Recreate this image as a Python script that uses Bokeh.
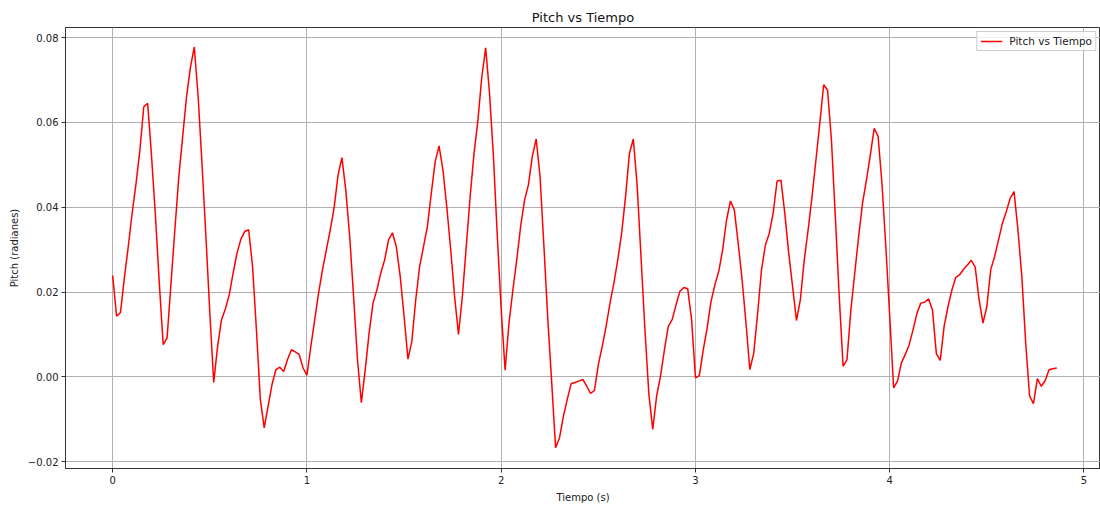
from bokeh.plotting import figure
from bokeh.models import Range1d, FixedTicker, CustomJSTickFormatter, Legend, LegendItem
from bokeh.embed import file_html
from bokeh.resources import INLINE

# Pitch angle (rad) sampled every 0.02 s
periodo = 0.02
pitch = [
    0.0239, 0.0143, 0.0152, 0.0233, 0.0307, 0.0386, 0.0456, 0.0535, 0.0637, 0.0645,
    0.0520, 0.0380, 0.0220, 0.0076, 0.0092, 0.0220, 0.0347, 0.0470, 0.0566, 0.0660,
    0.0730, 0.0778, 0.0660, 0.0500, 0.0330, 0.0150, -0.0013, 0.0072, 0.0135, 0.0160,
    0.0194, 0.0245, 0.0292, 0.0325, 0.0343, 0.0347, 0.0260, 0.0110, -0.0053, -0.0120,
    -0.0069, -0.0018, 0.0017, 0.0023, 0.0013, 0.0041, 0.0064, 0.0059, 0.0053, 0.0021,
    0.0004, 0.0072, 0.0135, 0.0198, 0.0253, 0.0300, 0.0347, 0.0400, 0.0476, 0.0517,
    0.0440, 0.0331, 0.0190, 0.0041, -0.0061, 0.0017, 0.0104, 0.0174, 0.0205, 0.0245,
    0.0276, 0.0323, 0.0340, 0.0307, 0.0237, 0.0143, 0.0042, 0.0084, 0.0182, 0.0260,
    0.0307, 0.0355, 0.0433, 0.0507, 0.0545, 0.0488, 0.0400, 0.0300, 0.0190, 0.0100,
    0.0190, 0.0307, 0.0425, 0.0527, 0.0605, 0.0707, 0.0776, 0.0668, 0.0519, 0.0331,
    0.0158, 0.0016, 0.0127, 0.0205, 0.0276, 0.0355, 0.0417, 0.0453, 0.0520, 0.0561,
    0.0472, 0.0307, 0.0135, -0.0014, -0.0167, -0.0144, -0.0093, -0.0053, -0.0016, -0.0013,
    -0.0010, -0.0006, -0.0022, -0.0039, -0.0032, 0.0029, 0.0072, 0.0119, 0.0174, 0.0221,
    0.0276, 0.0339, 0.0425, 0.0527, 0.0561, 0.0450, 0.0280, 0.0110, -0.0040, -0.0124,
    -0.0045, 0.0002, 0.0064, 0.0119, 0.0135, 0.0170, 0.0202, 0.0211, 0.0208, 0.0135,
    -0.0002, 0.0003, 0.0064, 0.0115, 0.0178, 0.0217, 0.0249, 0.0300, 0.0370, 0.0415,
    0.0394, 0.0315, 0.0229, 0.0127, 0.0017, 0.0056, 0.0150, 0.0253, 0.0311, 0.0339,
    0.0386, 0.0462, 0.0464, 0.0385, 0.0292, 0.0213, 0.0133, 0.0182, 0.0276, 0.0347,
    0.0425, 0.0511, 0.0598, 0.0689, 0.0676, 0.0558, 0.0378, 0.0190, 0.0025, 0.0041,
    0.0158, 0.0245, 0.0331, 0.0410, 0.0464, 0.0523, 0.0586, 0.0568, 0.0456, 0.0307,
    0.0143, -0.0026, -0.0010, 0.0033, 0.0053, 0.0076, 0.0111, 0.0150, 0.0174, 0.0176,
    0.0184, 0.0158, 0.0055, 0.0039, 0.0119, 0.0166, 0.0205, 0.0235, 0.0241, 0.0254,
    0.0264, 0.0275, 0.0259, 0.0182, 0.0127, 0.0166, 0.0253, 0.0284, 0.0323, 0.0362,
    0.0390, 0.0421, 0.0437, 0.0347, 0.0237, 0.0080, -0.0045, -0.0063, -0.0004, -0.0022,
    -0.0009, 0.0017, 0.0019, 0.0021,
]
tiempo = [round(i * periodo, 2) for i in range(len(pitch))]

x_ticks = [0, 1, 2, 3, 4, 5]
y_ticks = [-0.02, 0.0, 0.02, 0.04, 0.06, 0.08]

FONT = "DejaVu Sans"

p = figure(
    width=1100, height=505,
    output_backend="svg", toolbar_location=None,
    x_range=Range1d(-0.243, 5.085), y_range=Range1d(-0.0216, 0.0824),
    min_border_left=65, min_border_right=0, min_border_top=27, min_border_bottom=36,
    title="Pitch vs Tiempo",
)
p.background_fill_color = "white"
p.border_fill_color = "white"
p.outline_line_color = "#333333"
p.outline_line_width = 1

p.title.align = "center"
p.title.text_font = FONT
p.title.text_font_size = "13px"
p.title.text_font_style = "normal"
p.title.text_color = "#111111"
p.title.standoff = 5

for ax in (p.xaxis[0], p.yaxis[0]):
    ax.major_label_text_font = FONT
    ax.major_label_text_font_size = "10px"
    ax.major_label_text_color = "#222222"
    ax.axis_label_text_font = FONT
    ax.axis_label_text_font_size = "10px"
    ax.axis_label_text_font_style = "normal"
    ax.axis_label_text_color = "#222222"
    ax.axis_line_color = "#333333"
    ax.major_tick_line_color = "#333333"
    ax.major_tick_in = 0
    ax.major_tick_out = 4
    ax.minor_tick_line_color = None
    ax.major_label_standoff = 3
    ax.axis_label_standoff = 5

p.xaxis[0].ticker = FixedTicker(ticks=x_ticks)
p.yaxis[0].ticker = FixedTicker(ticks=y_ticks)
p.xaxis[0].formatter = CustomJSTickFormatter(code="return tick.toFixed(0);")
p.yaxis[0].formatter = CustomJSTickFormatter(
    code="return tick.toFixed(2).replace('-', '\u2212');")
p.xaxis[0].axis_label = "Tiempo (s)"
p.yaxis[0].axis_label = "Pitch (radianes)"

p.xgrid[0].ticker = FixedTicker(ticks=x_ticks)
p.ygrid[0].ticker = FixedTicker(ticks=y_ticks)
for g in (p.xgrid[0], p.ygrid[0]):
    g.grid_line_color = "#b0b0b0"
    g.grid_line_width = 1

r = p.line(tiempo, pitch, line_color="red", line_width=1.5)

legend = Legend(items=[LegendItem(label="Pitch vs Tiempo", renderers=[r])],
                location="top_right")
legend.label_text_font = FONT
legend.label_text_font_size = "10.5px"
legend.label_text_color = "#222222"
legend.label_height = 12
legend.border_line_color = "#cccccc"
legend.border_line_alpha = 1
legend.background_fill_alpha = 0.8
legend.margin = 4
legend.padding = 3
legend.spacing = 0
legend.glyph_width = 22
legend.glyph_height = 12
legend.label_standoff = 7
p.add_layout(legend)

open("out.html", "w").write(file_html(p, INLINE))
